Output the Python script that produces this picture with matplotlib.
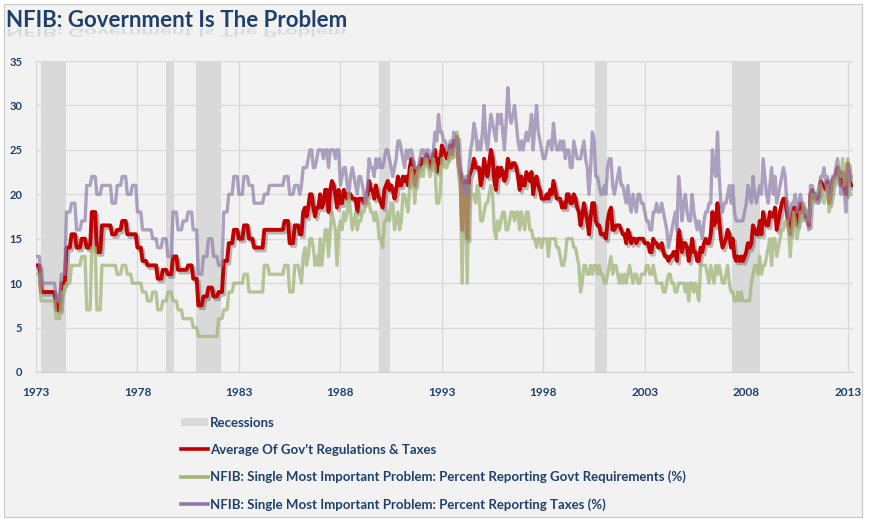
import numpy as np
import matplotlib
matplotlib.use("Agg")
import matplotlib.pyplot as plt
from matplotlib import patheffects as pe
from matplotlib.font_manager import FontProperties
from matplotlib.lines import Line2D
from matplotlib.patches import Patch, PathPatch, Rectangle
from matplotlib.textpath import TextPath
from matplotlib.transforms import Affine2D

title = "NFIB: Government Is The Problem"
labels = ["Recessions",
          "Average Of Gov't Regulations & Taxes",
          "NFIB: Single Most Important Problem: Percent Reporting Govt Requirements (%)",
          "NFIB: Single Most Important Problem: Percent Reporting Taxes (%)"]
x_ticks = [1973, 1978, 1983, 1988, 1993, 1998, 2003, 2008, 2013]
y_ticks = [0, 5, 10, 15, 20, 25, 30, 35]

# recession bands as they sit on the chart's own date axis
rec_start = [1973.25, 1979.42, 1980.88, 1989.92, 2000.57, 2007.32]
rec_end = [1974.46, 1979.80, 1982.13, 1990.44, 2001.15, 2008.69]

# quarterly survey, 1973 - 1985
govt_q = [11, 8, 8, 8, 6, 9, 10, 12, 12, 13, 7, 14, 7, 12, 12, 12,
          11, 12, 11, 10, 10, 9, 8, 9, 7, 8, 9, 8, 7, 6, 6, 5,
          4, 4, 4, 4, 6, 7, 9, 10, 10, 11, 9, 9, 9, 12, 11, 11,
          11, 12, 9, 12]
taxes_q = [13, 10, 10, 10, 8, 11, 18, 19, 16, 17, 21, 22, 20, 21, 21, 19,
           21, 22, 20, 21, 18, 16, 16, 15, 14, 15, 13, 18, 16, 17, 18, 16,
           11, 13, 15, 13, 12, 18, 20, 22, 20, 22, 21, 19, 19, 20, 21, 21,
           21, 22, 20, 21]

# monthly survey, Jan 1986 - Mar 2013
govt_m = [11, 10, 13, 14, 12, 13, 15, 15, 14, 12, 13, 12,
          15, 12, 14, 16, 16, 13, 16, 18, 17, 16, 12, 16,
          17, 16, 18, 17, 18, 20, 18, 16, 17, 18, 16, 17,
          17, 18, 18, 20, 19, 19, 18, 18, 17, 18, 17, 15,
          15, 14, 17, 17, 18, 17, 19, 19, 16, 17, 18, 16,
          17, 20, 20, 19, 18, 21, 23, 22, 19, 22, 23, 22,
          23, 22, 24, 24, 23, 22, 23, 24, 23, 19, 19, 20,
          24, 24, 23, 23, 24, 25, 24, 25, 25, 27, 22, 21,
          10, 21, 21, 10, 21, 20, 20, 20, 19, 21, 20, 17,
          17, 18, 19, 19, 20, 21, 20, 16, 15, 17, 16, 17,
          18, 18, 16, 16, 17, 18, 18, 17, 18, 18, 16, 18,
          17, 16, 18, 18, 16, 16, 15, 15, 14, 15, 15, 14,
          15, 15, 15, 13, 15, 15, 15, 15, 14, 14, 13, 12,
          12, 13, 15, 15, 15, 15, 14, 14, 13, 12, 9, 10,
          12, 12, 11, 11, 12, 11, 12, 12, 11, 12, 11, 11,
          10, 10, 11, 12, 13, 11, 12, 12, 11, 10, 11, 10,
          11, 10, 11, 12, 11, 10, 11, 11, 10, 10, 11, 11,
          11, 12, 12, 11, 11, 12, 11, 10, 10, 10, 10, 9,
          9, 10, 11, 11, 10, 10, 9, 9, 10, 10, 10, 10,
          9, 10, 8, 10, 10, 9, 10, 9, 8, 12, 12, 12,
          12, 11, 10, 12, 11, 10, 12, 11, 12, 11, 10, 10,
          11, 12, 10, 9, 9, 8, 8, 9, 8, 9, 8, 8,
          8, 8, 8, 10, 11, 12, 12, 11, 13, 11, 12, 12,
          13, 14, 15, 12, 15, 15, 13, 14, 15, 16, 16, 17,
          17, 16, 13, 16, 18, 17, 15, 16, 18, 17, 19, 18,
          18, 17, 19, 20, 19, 20, 20, 21, 21, 20, 19, 20,
          21, 18, 19, 21, 22, 21, 22, 23, 22, 24, 21, 22,
          24, 21, 20]
taxes_m = [20, 21, 23, 23, 23, 24, 25, 25, 23, 23, 24, 25,
           25, 25, 24, 25, 25, 23, 25, 25, 25, 24, 25, 25,
           21, 22, 23, 23, 21, 20, 22, 23, 22, 21, 20, 22,
           22, 21, 20, 19, 21, 24, 23, 23, 22, 24, 23, 24,
           23, 23, 24, 25, 25, 24, 23, 22, 23, 24, 26, 26,
           25, 24, 23, 25, 24, 25, 25, 24, 23, 23, 23, 24,
           25, 25, 24, 25, 25, 24, 24, 25, 27, 26, 29, 27,
           27, 26, 26, 25, 25, 26, 25, 27, 26, 26, 24, 23,
           22, 20, 22, 20, 23, 25, 26, 28, 27, 25, 26, 25,
           27, 30, 26, 25, 27, 29, 28, 27, 26, 29, 28, 29,
           27, 25, 28, 32, 29, 28, 29, 30, 28, 26, 25, 26,
           25, 26, 27, 26, 27, 29, 25, 28, 30, 27, 26, 25,
           24, 24, 25, 26, 26, 25, 28, 26, 25, 25, 26, 25,
           26, 24, 25, 25, 23, 23, 26, 25, 24, 24, 24, 25,
           26, 24, 23, 20, 23, 27, 26, 22, 22, 21, 20, 20,
           21, 20, 23, 24, 24, 21, 20, 21, 22, 23, 21, 21,
           20, 19, 21, 19, 18, 20, 19, 18, 20, 20, 19, 19,
           18, 17, 17, 16, 16, 18, 18, 19, 18, 18, 19, 18,
           17, 16, 14, 15, 16, 17, 18, 16, 22, 20, 17, 19,
           20, 18, 17, 17, 20, 18, 17, 16, 17, 16, 15, 17,
           18, 18, 19, 19, 25, 23, 22, 27, 22, 19, 18, 19,
           19, 20, 21, 19, 21, 18, 17, 17, 17, 17, 17, 18,
           19, 21, 20, 19, 22, 20, 19, 20, 21, 20, 24, 22,
           20, 19, 21, 23, 20, 22, 19, 20, 21, 22, 23, 22,
           19, 17, 18, 19, 19, 20, 18, 19, 20, 19, 18, 17,
           17, 16, 21, 21, 20, 20, 19, 19, 22, 22, 23, 21,
           22, 20, 21, 22, 22, 23, 24, 22, 20, 21, 20, 18,
           23, 22, 22]

# the quarterly readings repeat across their three months, as on the chart
govt = np.concatenate([np.repeat(govt_q, 3), govt_m]).astype(float)
taxes = np.concatenate([np.repeat(taxes_q, 3), taxes_m]).astype(float)
avg = (govt + taxes) / 2
x = 1973 + np.arange(len(govt)) / 12

navy = "#1f3f6e"
bg = "#f2f2f2"
W, H = 869, 519

fig = plt.figure(figsize=(W / 100, H / 100), dpi=100, facecolor="white")
fig.add_artist(Rectangle((4 / W, 2 / H), 858 / W, 513 / H, transform=fig.transFigure,
                         facecolor=bg, edgecolor="#c8c8c8", lw=0.8, zorder=0))

ax = fig.add_axes([36 / W, 1 - 372 / H, 817 / W, 311 / H])
ax.set_facecolor(bg)

for s, e in zip(rec_start, rec_end):
    ax.axvspan(s, e, color="#d9d9d9", lw=0, zorder=1)

ax.plot(x, avg, color="#c00000", lw=2.8, zorder=3,
        path_effects=[pe.SimpleLineShadow(offset=(1.5, -2), shadow_color="black", alpha=0.25),
                      pe.Normal()])
ax.plot(x, govt, color="#a1b579", lw=2.4, alpha=0.75, zorder=4)
ax.plot(x, taxes, color="#8d7da7", lw=2.4, alpha=0.7, zorder=5)

ax.set_xlim(1973, 2013.26)
ax.set_ylim(0, 35)
ax.set_xticks(x_ticks)
ax.set_yticks(y_ticks)
ax.set_axisbelow(True)
ax.grid(True, color="#d9d9d9", lw=0.9)
for side in ["top", "right", "left"]:
    ax.spines[side].set_visible(False)
ax.spines["bottom"].set_color("#d0d0d0")
ax.tick_params(length=0, colors=navy)
ax.tick_params(axis="x", pad=11)
ax.tick_params(axis="y", pad=10)
for lab in ax.get_xticklabels():
    lab.set_fontfamily("Lato")
    lab.set_fontweight("bold")
    lab.set_fontsize(8.5)
for lab in ax.get_yticklabels():
    lab.set_fontfamily("Lato")
    lab.set_fontweight("bold")
    lab.set_fontsize(8)

# title with a faint mirrored reflection underneath
fp = FontProperties(family="Lato", weight="bold", size=16)
tx, ty = 6, 27
fig.text(tx / W, 1 - ty / H, title, fontproperties=fp, color=navy, va="baseline")
tp = TextPath((0, 0), title, prop=fp, size=16)
refl = Affine2D().scale(1 / 72, -0.5 / 72).translate(tx / 100, (H - ty - 1.5) / 100) + fig.dpi_scale_trans
fig.add_artist(PathPatch(tp, transform=refl, facecolor=navy, lw=0, alpha=0.13))

handles = [Patch(facecolor="#d9d9d9", edgecolor="none"),
           Line2D([], [], color="#c00000", lw=2.6),
           Line2D([], [], color="#a1b579", lw=2.6),
           Line2D([], [], color="#8d7da7", lw=2.6)]
fig.legend(handles, labels, loc="upper left", bbox_to_anchor=(174 / W, 1 - 410 / H),
           frameon=False, borderpad=0, handlelength=2.1, handleheight=0.6,
           handletextpad=0.15, labelspacing=1.13, labelcolor=navy,
           prop={"family": "Lato", "weight": "bold", "size": 9.5})

fig.savefig("out.png", dpi=100, facecolor="white")
